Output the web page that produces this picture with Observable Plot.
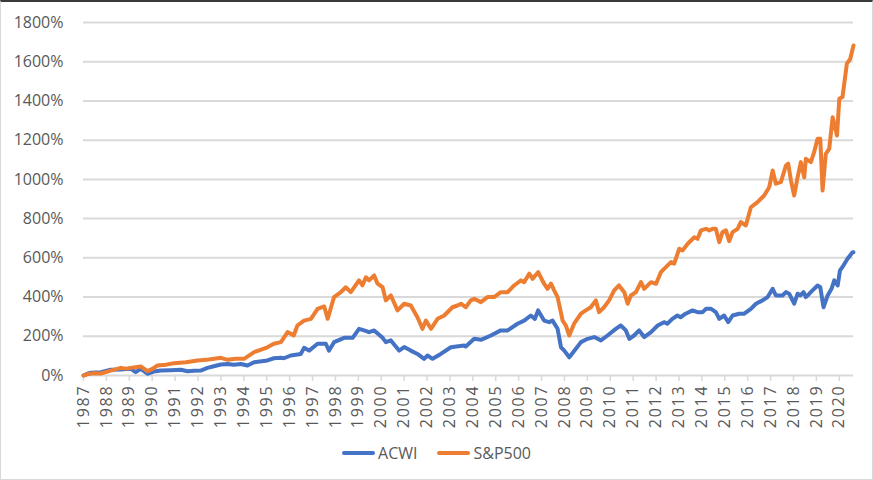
<!DOCTYPE html>
<html>
<head>
<meta charset="utf-8">
<script src="https://cdn.jsdelivr.net/npm/d3@7"></script>
<script src="https://cdn.jsdelivr.net/npm/@observablehq/plot@0.6"></script>
<style>
  html, body { margin: 0; padding: 0; background: #fff; }
  #wrap { position: relative; width: 873px; height: 480px; overflow: hidden; background: #fff; font-family: "Open Sans", sans-serif; }
  #frame { position: absolute; left: 0; top: 0; width: 873px; height: 480px; box-sizing: border-box; border: 1px solid #d9d9d9; border-top: 2px solid #3a3a3a; pointer-events: none; }
  #chart { position: absolute; left: 0; top: 0; }
  #chart g[aria-label="x-axis tick label"] text { letter-spacing: 1.8px; }
  #legend { position: absolute; left: 0; top: 441px; width: 873px; height: 24px; display: flex; justify-content: center; align-items: center; font-size: 16px; color: #595959; }
  .item { display: flex; align-items: center; margin: 0 10px; }
  .sw { width: 33px; height: 4px; border-radius: 2px; margin-right: 3px; }
</style>
</head>
<body>
<div id="wrap">
  <div id="chart"></div>
  <div id="legend"></div>
  <div id="frame"></div>
</div>
<script>
// Series names and colours
const seriesNames = ["ACWI", "S&P500"];
const seriesColors = ["#4472C4", "#ED7D31"];

// Axis ticks
const yTicks = [0, 200, 400, 600, 800, 1000, 1200, 1400, 1600, 1800];
const xTicks = [1987,1988,1989,1990,1991,1992,1993,1994,1995,1996,1997,1998,1999,2000,2001,2002,2003,2004,2005,2006,2007,2008,2009,2010,2011,2012,2013,2014,2015,2016,2017,2018,2019,2020];

// ACWI cumulative return (%)
const acwiYears = [1987.00,1987.17,1987.32,1987.76,1988.19,1988.63,1989.07,1989.28,1989.50,1989.79,1990.07,1990.38,1990.81,1991.25,1991.54,1991.82,1992.12,1992.41,1992.69,1993.00,1993.29,1993.56,1993.87,1994.16,1994.45,1995.03,1995.31,1995.62,1995.75,1996.05,1996.49,1996.63,1996.85,1997.22,1997.58,1997.72,1997.94,1998.38,1998.75,1999.03,1999.25,1999.47,1999.69,2000.06,2000.20,2000.42,2000.78,2001.00,2001.29,2001.58,2001.87,2002.02,2002.24,2002.60,2003.04,2003.62,2003.69,2004.06,2004.35,2004.79,2005.22,2005.52,2005.95,2006.24,2006.53,2006.71,2006.85,2007.11,2007.33,2007.48,2007.70,2007.85,2007.99,2008.21,2008.50,2008.72,2009.01,2009.30,2009.59,2009.88,2010.24,2010.46,2010.68,2010.83,2011.04,2011.26,2011.48,2011.78,2012.07,2012.35,2012.49,2012.71,2012.93,2013.07,2013.29,2013.59,2013.81,2014.03,2014.18,2014.40,2014.61,2014.76,2014.97,2015.15,2015.34,2015.63,2015.85,2016.14,2016.36,2016.65,2016.87,2017.09,2017.23,2017.52,2017.67,2017.81,2018.03,2018.18,2018.29,2018.44,2018.54,2018.69,2018.83,2019.05,2019.17,2019.31,2019.49,2019.66,2019.78,2019.93,2020.03,2020.14,2020.36,2020.58,2020.62];
const acwiValues = [0,9,14,17,29,30,34,17,34,9,20,25,27,29,22,24,25,39,47,56,59,55,59,51,68,77,88,90,88,102,110,141,127,162,162,127,170,192,192,238,230,221,230,192,170,179,127,145,127,110,85,102,85,110,144,153,148,187,182,204,230,230,264,280,306,289,332,280,272,280,238,144,127,93,136,170,187,196,179,204,238,255,230,187,204,230,196,221,255,272,264,289,306,297,315,332,323,323,340,340,323,289,306,272,306,315,315,340,366,383,400,442,408,408,425,417,366,417,408,425,400,417,434,459,450,348,408,442,485,459,536,553,595,629,629];

// S&P500 cumulative return (%)
const sp500Years = [1987.00,1987.23,1987.46,1987.76,1988.19,1988.63,1988.85,1989.07,1989.50,1989.79,1990.03,1990.23,1990.59,1990.96,1991.47,1991.98,1992.47,1993.00,1993.29,1993.65,1994.01,1994.45,1995.03,1995.31,1995.62,1995.91,1996.05,1996.18,1996.34,1996.63,1996.93,1997.22,1997.51,1997.66,1997.94,1998.24,1998.45,1998.67,1999.03,1999.18,1999.33,1999.47,1999.69,1999.84,2000.06,2000.20,2000.42,2000.71,2001.00,2001.29,2001.58,2001.80,2001.95,2002.17,2002.46,2002.75,2003.11,2003.33,2003.48,2003.69,2003.91,2004.06,2004.35,2004.64,2004.93,2005.22,2005.52,2005.80,2006.10,2006.24,2006.46,2006.61,2006.85,2007.11,2007.26,2007.41,2007.55,2007.70,2007.92,2008.06,2008.21,2008.42,2008.72,2008.93,2009.15,2009.37,2009.51,2009.73,2009.95,2010.17,2010.38,2010.61,2010.76,2010.90,2011.12,2011.34,2011.48,2011.78,2012.00,2012.21,2012.35,2012.65,2012.79,2013.01,2013.16,2013.38,2013.67,2013.81,2013.96,2014.18,2014.32,2014.47,2014.61,2014.76,2014.90,2015.05,2015.19,2015.34,2015.56,2015.70,2015.92,2016.14,2016.43,2016.72,2016.94,2017.09,2017.23,2017.45,2017.67,2017.77,2017.89,2018.03,2018.18,2018.32,2018.47,2018.54,2018.76,2018.90,2019.05,2019.17,2019.27,2019.41,2019.56,2019.71,2019.90,2020.00,2020.14,2020.33,2020.48,2020.62];
const sp500Values = [0,8,12,10,25,39,35,39,46,22,35,51,55,63,68,77,82,90,80,85,85,119,144,162,170,221,213,204,255,280,289,340,352,289,400,425,450,425,485,460,501,485,510,468,450,383,408,332,366,357,297,238,280,238,289,306,348,357,366,348,383,391,374,400,400,425,425,459,485,476,519,493,527,468,442,468,434,400,280,255,204,264,315,332,348,383,323,348,383,434,459,425,366,408,425,476,442,476,468,527,544,578,570,646,638,672,705,697,740,748,740,748,748,680,731,740,685,731,748,782,765,858,884,918,960,1045,978,986,1071,1080,994,918,1011,1088,1011,1105,1088,1139,1207,1207,943,1130,1156,1317,1224,1411,1420,1590,1615,1683];

const rows = [
  ...acwiYears.map((t, i) => ({series: seriesNames[0], t, v: acwiValues[i]})),
  ...sp500Years.map((t, i) => ({series: seriesNames[1], t, v: sp500Values[i]}))
];

const plot = Plot.plot({
  width: 873,
  height: 440,
  marginLeft: 83,
  marginRight: 20,
  marginTop: 22,
  marginBottom: 65,
  style: {fontFamily: "'Open Sans', sans-serif", fontSize: "16px", color: "#595959", background: "transparent", overflow: "visible"},
  x: {type: "linear", domain: [1987, 2020.62]},
  y: {domain: [0, 1800]},
  color: {domain: seriesNames, range: seriesColors},
  marks: [
    Plot.gridY(yTicks, {stroke: "#d9d9d9", strokeOpacity: 1, strokeWidth: 2}),
    Plot.axisY(yTicks, {tickSize: 0, tickPadding: 20, tickFormat: d => d + "%", fill: "#595959", label: null}),
    Plot.axisX(xTicks, {tickSize: 6, tickPadding: 3, tickRotate: -90, tickFormat: d => String(d), stroke: "#d9d9d9", strokeWidth: 1.5, fill: "#595959", label: null}),
    Plot.line(rows, {x: "t", y: "v", z: "series", stroke: "series", strokeWidth: 4, strokeLinejoin: "round", strokeLinecap: "round"})
  ]
});
document.getElementById("chart").appendChild(plot);

const legend = document.getElementById("legend");
seriesNames.forEach((name, i) => {
  const item = document.createElement("div");
  item.className = "item";
  const sw = document.createElement("span");
  sw.className = "sw";
  sw.style.background = seriesColors[i];
  const label = document.createElement("span");
  label.textContent = name;
  item.appendChild(sw);
  item.appendChild(label);
  legend.appendChild(item);
});
</script>
</body>
</html>
